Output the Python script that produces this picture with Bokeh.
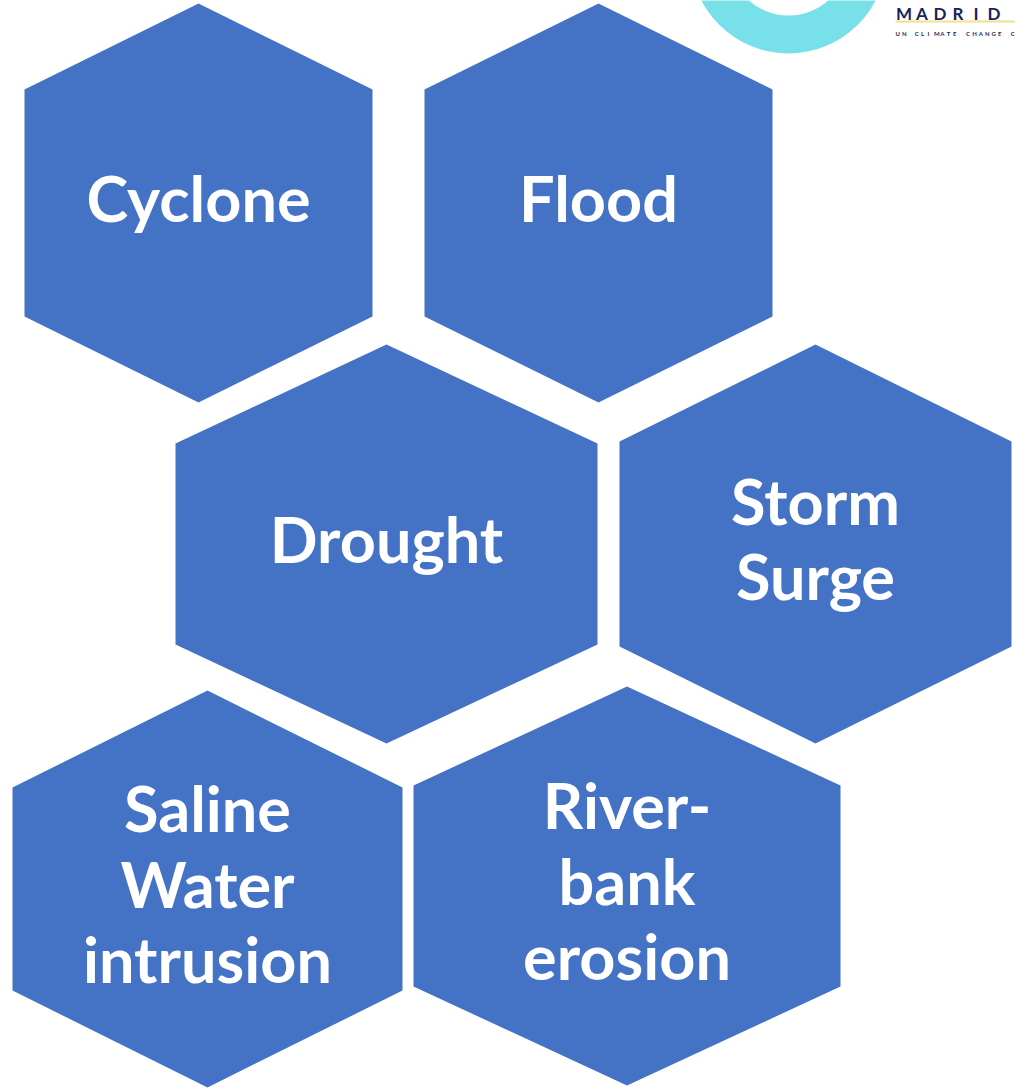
from bokeh.plotting import figure
from bokeh.embed import file_html
from bokeh.resources import INLINE
from bokeh.core.properties import value

# ---- content ----
labels = [
    ["Cyclone"],
    ["Flood"],
    ["Drought"],
    ["Storm", "Surge"],
    ["Saline", "Water", "intrusion"],
    ["River-", "bank", "erosion"],
]
logo_word = "MADRID"
logo_tagline = "UN CLIMATE CHANGE C"

# ---- layout (pixel coordinates of the page) ----
hex_left = [24, 424, 175, 619, 12, 413]
hex_right = [372, 772, 597, 1011, 402, 840]
hex_top = [3, 3, 344, 344, 690, 686]
hex_bottom = [402, 402, 743, 743, 1087, 1085]
hex_shoulder = [86, 86, 99, 97, 97, 99]

HEX_COLOR = "#4472C4"
LINE_GAP = 75.5
BASE_OFFSET = -6.0

W, H = 1015, 1088
p = figure(width=W, height=H, x_range=(0, W), y_range=(H, 0),
           min_border=0, toolbar_location=None, output_backend="svg",
           x_axis_location=None, y_axis_location=None)
p.grid.visible = False
p.outline_line_color = None
p.background_fill_color = "white"
p.border_fill_color = "white"

# ---- logo fragment (top right) ----
p.annulus(x=[788], y=[-45], inner_radius=60, outer_radius=98,
          fill_color="#78E0E8", line_color=None)
word_x = [903.5 + i * 18.0 for i in range(len(logo_word))]
p.text(x=word_x, y=[12.5] * len(logo_word), text=list(logo_word),
       text_font=value("Lato"), text_font_style="bold", text_font_size="17px",
       text_color="#1B1F5C", text_baseline="alphabetic", text_align="center")
p.segment(x0=[895], y0=[21], x1=[1015], y1=[21], line_color="#F3E08C", line_width=2)
tag_x, tag_t = [], []
for i, ch in enumerate(logo_tagline):
    if ch != " ":
        tag_x.append(895 + i * 6.4)
        tag_t.append(ch)
p.text(x=tag_x, y=[33] * len(tag_x), text=tag_t,
       text_font=value("Lato"), text_font_style="bold", text_font_size="6px",
       text_color="#1B1F5C", text_baseline="alphabetic", text_align="left")

# ---- hexagons ----
xs, ys = [], []
for l, r, t, b, s in zip(hex_left, hex_right, hex_top, hex_bottom, hex_shoulder):
    cx = (l + r) / 2
    xs.append([cx, r, r, cx, l, l])
    ys.append([t, t + s, b - s, b, b - s, t + s])
p.patches(xs, ys, fill_color=HEX_COLOR, line_color=None)

# ---- labels ----
tx, ty, tt = [], [], []
for lines, l, r, t, b in zip(labels, hex_left, hex_right, hex_top, hex_bottom):
    cx = (l + r) / 2
    cy = (t + b) / 2
    n = len(lines)
    for i, line in enumerate(lines):
        tx.append(cx)
        ty.append(cy + BASE_OFFSET + (i - (n - 1) / 2) * LINE_GAP)
        tt.append(line)
p.text(x=tx, y=ty, text=tt, text_font=value("Lato"), text_font_style="bold",
       text_font_size="63px", text_color="white", text_align="center",
       text_baseline="alphabetic")

open("out.html", "w").write(file_html(p, INLINE))
